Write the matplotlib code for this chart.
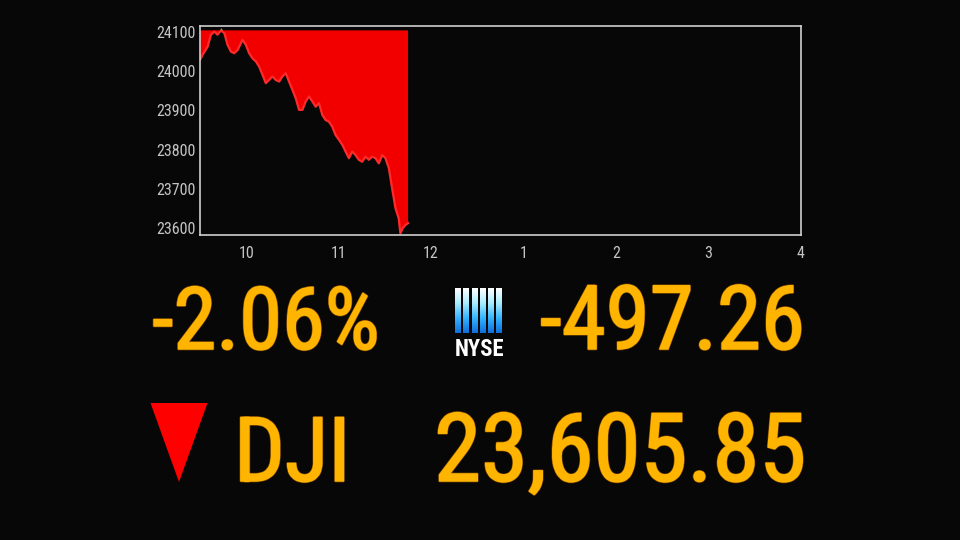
import numpy as np
import matplotlib
matplotlib.use("Agg")
import matplotlib.pyplot as plt
import matplotlib.font_manager as fm
from matplotlib.patches import Polygon
import matplotlib.patheffects as pe

# ---- data ----
prev_close = 24103.11
minutes = [0, 1.7, 5.0, 7.1, 9.3, 11.4, 13.6, 15.8, 17.9, 20.1, 22.2, 24.4, 26.5, 27.6,
           29.8, 31.9, 34.1, 36.3, 38.4, 40.6, 42.7, 44.9, 47.0, 49.2, 51.4, 53.5, 55.7,
           57.8, 60.0, 62.2, 64.3, 66.5, 68.6, 70.8, 73.0, 75.1, 77.3, 79.4, 81.6, 83.7,
           85.9, 88.0, 90.2, 92.4, 94.5, 96.7, 98.8, 101.0, 103.1, 105.3, 107.5, 109.6,
           111.8, 113.9, 116.1, 118.3, 120.4, 122.6, 124.7, 126.9, 129.0, 130.1, 131.6,
           133.4, 135.1]
prices = [24028, 24041, 24062, 24092, 24100, 24092, 24110, 24096, 24066, 24049, 24045,
          24053, 24070, 24079, 24066, 24045, 24032, 24024, 24011, 23990, 23969, 23977,
          23986, 23977, 23973, 23986, 23994, 23973, 23952, 23930, 23901, 23901, 23922,
          23935, 23922, 23909, 23918, 23888, 23875, 23871, 23858, 23837, 23825, 23812,
          23795, 23778, 23795, 23786, 23774, 23769, 23782, 23774, 23782, 23778, 23765,
          23786, 23778, 23753, 23702, 23651, 23625, 23587, 23600, 23608, 23613]
y_ticks = [23600, 23700, 23800, 23900, 24000, 24100]
x_ticks = [10, 11, 12, 13, 14, 15, 16]
x_labels = ["10", "11", "12", "1", "2", "3", "4"]

pct_text = "-2.06%"
chg_text = "-497.26"
name_text = "DJI"
last_text = "23,605.85"

W, H = 960, 540
BG = "#070707"
GOLD = "#ffb500"

# pick the narrowest face that is actually installed
installed = {f.name for f in fm.fontManager.ttflist}
narrow = next((n for n in ["Roboto Condensed", "Liberation Sans Narrow",
                           "Open Sans Condensed", "Roboto", "Lato"] if n in installed),
              "DejaVu Sans")
FONT = [narrow, "DejaVu Sans"]


def fx(x):
    return x / W


def fy(y):
    return 1 - y / H


fig = plt.figure(figsize=(9.6, 5.4), dpi=100, facecolor=BG)
renderer = fig.canvas.get_renderer()


def fit_text(s, x0, x1, base, grow=1.0, ha="left", **kw):
    # size a text from the span x0..x1 pixels, sitting on baseline `base`
    txt = fig.text(fx(x0 if ha == "left" else x1), fy(base), s, fontsize=50, ha=ha,
                   va="baseline", transform=fig.transFigure, **kw)
    w = txt.get_window_extent(renderer).width
    txt.set_fontsize(50 * grow * (x1 - x0) / w)
    return txt


# ---- intraday chart ----
ax = fig.add_axes([fx(200), fy(234.5), (800.7 - 200) / W, (234.5 - 25.7) / H])
ax.set_facecolor(BG)
t = 9.5 + np.array(minutes) / 60.0
p = np.array(prices, dtype=float)

ax.fill_between(t, p, prev_close, where=p <= prev_close, interpolate=True,
                color="#f20000", lw=0)
ax.fill_between(t, p, prev_close, where=p >= prev_close, interpolate=True,
                color="#3dff3d", lw=0)
ax.plot(t, np.minimum(p, prev_close), color="#ff2a2a", lw=1.6)

ax.set_xlim(9.5, 16)
ax.set_ylim(23584, 24115)
ax.set_yticks(y_ticks)
ax.set_yticklabels([str(v) for v in y_ticks])
ax.set_xticks(x_ticks)
ax.set_xticklabels(x_labels)
for s in ax.spines.values():
    s.set_color("#cfcfcf")
    s.set_linewidth(1.2)
ax.tick_params(length=0, colors="#c4c4c4", labelsize=11.5)
ax.tick_params(axis="y", pad=3)
ax.tick_params(axis="x", pad=8)
for lab in ax.get_xticklabels() + ax.get_yticklabels():
    lab.set_family(FONT)
    lab.set_fontstretch("condensed")

# ---- big quote texts ----
thick = [pe.Stroke(linewidth=1.9, foreground="#7a4600"),
         pe.Stroke(linewidth=1.0, foreground=GOLD), pe.Normal()]
big = dict(color=GOLD, family=FONT, path_effects=thick)
fit_text(pct_text, 152, 365, 349, grow=1.07, **big)
fit_text(chg_text, 557, 805, 349, grow=1.07, ha="right", **big)
fit_text(name_text, 234, 343, 481, grow=1.07, **big)
fit_text(last_text, 458, 806, 481, grow=1.07, ha="right", **big)

# down arrow
fig.patches.append(Polygon([(fx(150.5), fy(403)), (fx(207.5), fy(403)),
                            (fx(179), fy(482))], closed=True,
                           transform=fig.transFigure, color="#ff0000", lw=0))

# ---- NYSE logo ----
lax = fig.add_axes([fx(455), fy(333), 50 / W, 45 / H])
lax.set_axis_off()
grad = np.linspace(0, 1, 64).reshape(-1, 1)
cmap = matplotlib.colors.LinearSegmentedColormap.from_list(
    "nyse", ["#ffffff", "#a8ecff", "#35b4ff", "#0d6fdc"])
for i in range(6):
    x0 = i * 8.3
    lax.imshow(grad, cmap=cmap, aspect="auto", extent=(x0, x0 + 6, 45, 0),
               interpolation="bilinear")
lax.set_xlim(0, 50)
lax.set_ylim(45, 0)
fit_text("NYSE", 455, 505, 355.5, color="white", fontweight="bold", family=FONT)

fig.savefig("out.png", dpi=100, facecolor=BG)
